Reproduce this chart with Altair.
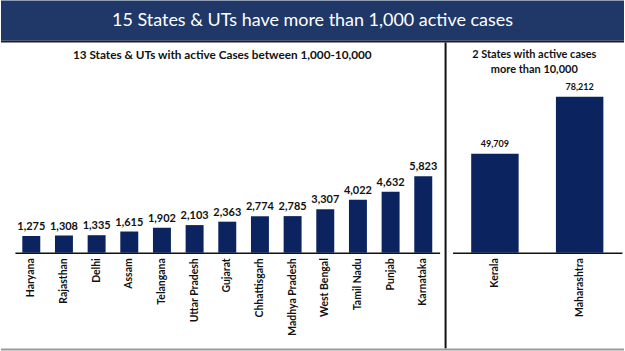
import altair as alt
import pandas as pd

# ---- data ----
states_small = ["Haryana", "Rajasthan", "Delhi", "Assam", "Telangana", "Uttar Pradesh",
                "Gujarat", "Chhattisgarh", "Madhya Pradesh", "West Bengal", "Tamil Nadu",
                "Punjab", "Karnataka"]
cases_small = [1275, 1308, 1335, 1615, 1902, 2103, 2363, 2774, 2785, 3307, 4022, 4632, 5823]

states_big = ["Kerala", "Maharashtra"]
cases_big = [49709, 78212]

main_title = "15 States & UTs have more than 1,000 active cases"
left_title = "13 States & UTs with active Cases between 1,000-10,000"
right_title = ["2 States with active cases", "more than 10,000"]

df_small = pd.DataFrame({"state": states_small, "cases": cases_small})
df_big = pd.DataFrame({"state": states_big, "cases": cases_big})

NAVY = "#0B2460"
BANNER = "#1F3868"
FONT = "Lato"
W, H = 611, 190

axis_common = dict(orient="bottom", labelAngle=-90, labelFont=FONT, labelFontWeight="bold",
                   labelFontSize=10.5, labelColor="#111111", ticks=False, labelPadding=5,
                   domainColor="#111111", domainWidth=1.5, title=None)

# left panel
xl = alt.X("state:N", sort=None,
           scale=alt.Scale(range=[0, 426], paddingInner=0.45, paddingOuter=0.225),
           axis=alt.Axis(**axis_common))
yl = alt.Y("cases:Q", scale=alt.Scale(domain=[0, 14400], nice=False), axis=None)
left_bars = alt.Chart(df_small).mark_bar(color=NAVY).encode(x=xl, y=yl)
left_text = alt.Chart(df_small).mark_text(
    font=FONT, fontWeight="bold", fontSize=11, color="#111111", baseline="bottom", dy=-4
).encode(x=xl, y=yl, text=alt.Text("cases:Q", format=","))
left = alt.layer(left_bars, left_text)

# right panel
xr = alt.X("state:N", sort=None,
           scale=alt.Scale(range=[439, 609], paddingInner=0.44, paddingOuter=0.22),
           axis=alt.Axis(**axis_common))
yr = alt.Y("cases:Q", scale=alt.Scale(domain=[0, 95000], nice=False), axis=None)
right_bars = alt.Chart(df_big).mark_bar(color=NAVY).encode(x=xr, y=yr)
right_text = alt.Chart(df_big).mark_text(
    font=FONT, fontWeight="bold", fontSize=9, color="#111111", baseline="bottom", dy=-5
).encode(x=xr, y=yr, text=alt.Text("cases:Q", format=","))
right = alt.layer(right_bars, right_text)

one = alt.Data(values=[{}])

banner = alt.Chart(one).mark_rect(color=BANNER).encode(
    x=alt.value(-14), x2=alt.value(611), y=alt.value(-63), y2=alt.value(-23))
banner_line = alt.Chart(one).mark_rect(color="#1A1F2E").encode(
    x=alt.value(-14), x2=alt.value(611), y=alt.value(-23), y2=alt.value(-21))
title = alt.Chart(one).mark_text(
    font=FONT, fontSize=18, color="white", align="center", baseline="middle"
).encode(x=alt.value(298.5), y=alt.value(-42), text=alt.value(main_title))

sub_left = alt.Chart(one).mark_text(
    font=FONT, fontWeight="bold", fontSize=11.8, color="#111111", align="center", baseline="middle"
).encode(x=alt.value(208), y=alt.value(-8), text=alt.value(left_title))
sub_right = alt.Chart(one).mark_text(
    font=FONT, fontWeight="bold", fontSize=11, color="#111111", align="center",
    baseline="middle", lineHeight=15
).encode(x=alt.value(521), y=alt.value(-8), text=alt.value(right_title))

divider = alt.Chart(one).mark_rule(color="#111111", strokeWidth=2).encode(
    x=alt.value(432), y=alt.value(-21), y2=alt.value(286))
bottom = alt.Chart(one).mark_rule(color="#9A9A9A", strokeWidth=2).encode(
    x=alt.value(-14), x2=alt.value(611), y=alt.value(287))

chart = alt.layer(
    banner, banner_line, title, sub_left, sub_right, divider, bottom, left, right
).resolve_scale(x="independent", y="independent").properties(
    width=W, height=H, padding=0, background="white"
).configure_view(stroke="transparent")

chart.save("out.html", embed_options={"renderer": "svg", "actions": False})
